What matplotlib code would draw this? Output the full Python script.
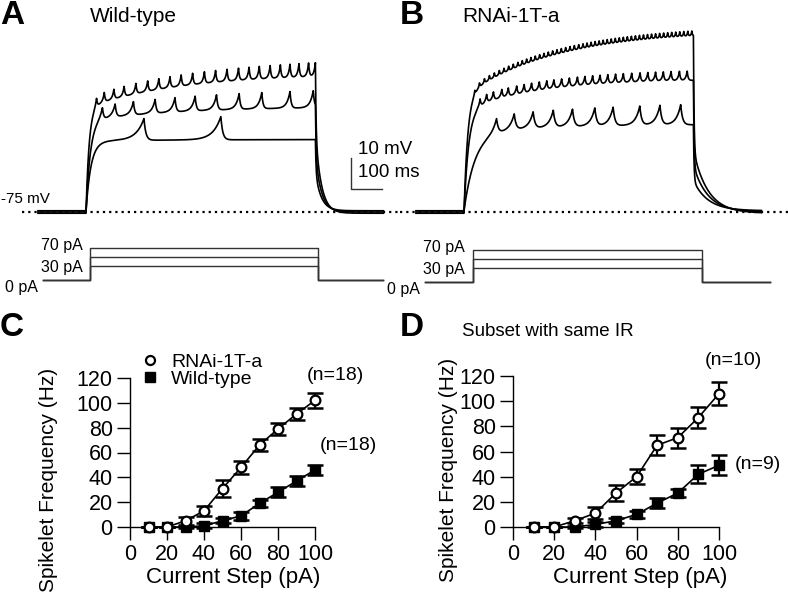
import numpy as np
import matplotlib
matplotlib.use('Agg')
import matplotlib.pyplot as plt
from matplotlib.lines import Line2D

plt.rcParams['font.family'] = ['Liberation Sans', 'DejaVu Sans']

W, H = 788, 598

# ---------------- data ----------------
# current steps (pA) used for the example traces
step_levels = [30, 50, 70]
rest_mv = -75

# spike times (ms after step onset)
wt_spikes = {
    30: [187, 435],
    50: [53, 94, 153, 223, 287, 352, 421, 494, 567, 658, 733],
    70: [34, 59, 90, 123, 161, 199, 235, 271, 307, 344, 382, 418, 455, 492,
         526, 559, 594, 627, 658, 687, 718, 740],
}
rnai_spikes = {
    30: [105, 162, 223, 288, 350, 422, 481, 567, 632, 699],
    50: [52, 73, 95, 122, 143, 170, 194, 218, 243, 267, 290, 315, 340, 366,
         390, 415, 439, 464, 489, 514, 541, 568, 593, 618, 643, 668, 695, 720],
    70: [35, 50, 66, 82, 98, 114, 129, 144, 159, 174, 188, 202, 216, 230, 244,
         258, 272, 286, 300, 314, 328, 342, 356, 370, 384, 397, 410, 423, 436,
         449, 462, 475, 488, 501, 514, 527, 540, 553, 566, 579, 592, 605, 618,
         631, 644, 657, 670, 683, 696, 709, 722, 735],
}
# depolarisation (mV above rest): fast part, slow drift part
wt_level = {30: (22.5, 0.5), 50: (29.5, 4.5), 70: (34.0, 11.0)}
rnai_level = {30: (25.0, 3.0), 50: (33.0, 10.0), 70: (38.0, 21.0)}
# spikelet amplitude (mV) first -> last
wt_amp = {30: (7.0, 7.5), 50: (4.0, 5.5), 70: (3.0, 4.5)}
rnai_amp = {30: (5.0, 6.5), 50: (2.6, 3.0), 70: (1.4, 1.6)}

step_on, step_off = 0, 740
trace_start, trace_end = -155, 960
wt_current_t = [-139, 13, 748, 958]
rnai_current_t = [-126, 29, 768, 987]

# frequency-current curves
current = [10, 20, 30, 40, 50, 60, 70, 80, 90, 100]
rnai_c = [0, 0, 5, 13, 31, 48, 66, 79, 91, 102]
rnai_c_err = [0, 0, 3, 4, 7, 5, 5, 5, 5, 6]
wt_c = [0, 0, 0, 1, 5, 9, 19, 28, 37, 46]
wt_c_err = [0, 0, 1, 2, 2, 3, 3, 4, 4, 4]

rnai_d = [0, 0, 5, 11, 27, 40, 65, 71, 87, 106]
rnai_d_err = [0, 0, 2, 5, 6, 6, 8, 8, 8, 9]
wt_d = [0, 0, 0, 2, 5, 10, 19, 27, 42, 49]
wt_d_err = [0, 0, 1, 2, 2, 3, 4, 3, 7, 8]


def px_axes(fig, x0, y0, x1, y1):
    return fig.add_axes([x0 / W, 1 - y1 / H, (x1 - x0) / W, (y1 - y0) / H])


def set_scale(ax, box, x_px, x_val, xs, y_px, y_val, ys):
    x0, y0, x1, y1 = box
    ax.set_xlim(x_val + (x0 - x_px) / xs, x_val + (x1 - x_px) / xs)
    ax.set_ylim(y_val - (y1 - y_px) / ys, y_val + (y_px - y0) / ys)


def build_trace(t, level, spikes, amp, tau1, tau2, tau_r, tau_f, slow_frac, tau_off):
    v = np.zeros_like(t)
    inside = (t >= step_on) & (t <= step_off)
    s = t[inside] - step_on
    v[inside] = level[0] * (1 - np.exp(-s / tau1)) + level[1] * (1 - np.exp(-s / tau2))
    amps = np.linspace(amp[0], amp[1], len(spikes))
    for ts, a in zip(spikes, amps):
        d = t[inside] - ts
        v[inside] += a * np.exp(-np.abs(d) / np.where(d < 0, tau_r, tau_f))
    v_end = v[inside][-1]
    after = t > step_off
    sa = t[after] - step_off
    v[after] = v_end * ((1 - slow_frac) * np.exp(-sa / 2.0) + slow_frac * np.exp(-sa / tau_off))
    return rest_mv + v


fig = plt.figure(figsize=(W / 100, H / 100), dpi=100)

t = np.arange(trace_start, trace_end, 0.5)
shape_wt = {30: (16, 300, 25, 6), 50: (14, 300, 10, 4), 70: (10, 300, 5, 3)}
shape_rnai = {30: (35, 300, 14, 6), 50: (15, 250, 5, 3), 70: (12, 300, 2.5, 2)}
rest_offset = {30: 0.4, 50: 0.0, 70: -0.4}

panels = [
    ('A', 'Wild-type', 0, 400, 86, wt_spikes, wt_level, wt_amp, shape_wt, (0.53, 19), wt_current_t, 280),
    ('B', 'RNAi-1T-a', 400, 788, 464, rnai_spikes, rnai_level, rnai_amp, shape_rnai, (0.35, 47), rnai_current_t, 282),
]
for letter, name, x0, x1, onset_px, spikes, level, amp, shape, off, cur_t, zero_px in panels:
    box = (x0, 30, x1, 238)
    ax = px_axes(fig, *box)
    set_scale(ax, box, onset_px, 0, 0.31, 212, rest_mv, 3.1)
    ax.axis('off')
    for lev in step_levels:
        tau1, tau2, tau_r, tau_f = shape[lev]
        v = build_trace(t, level[lev], spikes[lev], amp[lev], tau1, tau2, tau_r, tau_f, off[0], off[1])
        ax.plot(t, v + rest_offset[lev], color='black', lw=1.2)
    ax.axhline(rest_mv, xmin=(22 - x0) / (x1 - x0) if x0 == 0 else 0, color='black',
               lw=1.6, ls=(0, (1, 1.8)))

    fig.text(x0 / W, 1 - 16 / H, letter, fontsize=24, fontweight='bold', va='center', ha='left')
    fig.text((x0 + (90 if x0 == 0 else 62)) / W, 1 - 16 / H, name, fontsize=15, va='center', ha='left')

    # current step protocol
    cbox = (x0, 238, x1, 300)
    cax = px_axes(fig, *cbox)
    set_scale(cax, cbox, onset_px, 0, 0.31, zero_px, 0, 0.462)
    cax.axis('off')
    for lev in step_levels:
        cax.plot([cur_t[0], cur_t[1], cur_t[1], cur_t[2], cur_t[2], cur_t[3]],
                 [0, 0, lev, lev, 0, 0], color='#333333', lw=1.0)
    cax.text(cur_t[1] - 25, 74, '70 pA', fontsize=11.5, ha='right', va='center')
    cax.text(cur_t[1] - 25, 28, '30 pA', fontsize=11.5, ha='right', va='center')
    cax.text(cur_t[0] - 15, -16, '0 pA', fontsize=11.5, ha='right', va='center')

# -75 mV label and scale bar on panel A
fig.text(1 / W, 1 - 199 / H, '-75 mV', fontsize=11, va='center', ha='left')
sb = px_axes(fig, 0, 30, 400, 238)
set_scale(sb, (0, 30, 400, 238), 86, 0, 0.31, 212, rest_mv, 3.1)
sb.axis('off')
sb.plot([855, 855, 955], [rest_mv + 17.4, rest_mv + 7.4, rest_mv + 7.4], color='#333333', lw=1.0)
sb.text(877, rest_mv + 20.3, '10 mV', fontsize=13.5, va='center', ha='left')
sb.text(877, rest_mv + 12.6, '100 ms', fontsize=13.5, va='center', ha='left')

# ---------------- F-I curves ----------------
fi_panels = [
    ('C', (130, 378, 315, 527), rnai_c, rnai_c_err, wt_c, wt_c_err),
    ('D', (513, 376, 719, 527), rnai_d, rnai_d_err, wt_d, wt_d_err),
]
axes_fi = []
for letter, box, rn, rn_err, wt, wt_err in fi_panels:
    ax = px_axes(fig, *box)
    axes_fi.append(ax)
    ax.errorbar(current, wt, yerr=wt_err, fmt='none', ecolor='black', elinewidth=1.6,
                capsize=5.5, capthick=1.8, clip_on=False, zorder=2)
    ax.plot(current, wt, '-s', color='black', ms=7.5, lw=1.2, mfc='black', clip_on=False, zorder=3)
    ax.errorbar(current, rn, yerr=rn_err, fmt='none', ecolor='black', elinewidth=1.6,
                capsize=5.5, capthick=1.8, clip_on=False, zorder=4)
    ax.plot(current, rn, '-o', color='black', ms=7, lw=1.2, mfc='white', mew=1.6,
            clip_on=False, zorder=5)
    ax.set_xlim(0, 100)
    ax.set_ylim(0, 120)
    ax.set_xticks([0, 20, 40, 60, 80, 100])
    ax.set_yticks([0, 20, 40, 60, 80, 100, 120])
    ax.tick_params(direction='out', length=9.5, width=1.0, labelsize=15.5, pad=3)
    for side in ['top', 'right']:
        ax.spines[side].set_visible(False)
    for side in ['left', 'bottom']:
        ax.spines[side].set_linewidth(1.0)
    ax.set_xlabel('Current Step (pA)', fontsize=16)
    ax.set_ylabel('Spikelet Frequency (Hz)', fontsize=15)
    fig.text(box[0] / W - (130 if letter == 'C' else 113) / W, 1 - 328 / H, letter,
             fontsize=24, fontweight='bold', va='center', ha='left')

ax_c, ax_d = axes_fi
ax_c.yaxis.set_label_coords(-0.389, 0.315)
ax_c.xaxis.set_label_coords(0.557, -0.268)
ax_d.yaxis.set_label_coords(-0.267, 0.377)
ax_d.xaxis.set_label_coords(0.617, -0.265)

handles = [Line2D([], [], ls='none', marker='o', color='black', mfc='white', mew=1.6, ms=6.5),
           Line2D([], [], ls='none', marker='s', color='black', ms=7)]
ax_c.legend(handles, ['RNAi-1T-a', 'Wild-type'], loc='upper left', bbox_to_anchor=(0.065, 1.165),
            frameon=False, fontsize=14, handlelength=0.8, handletextpad=0.7,
            labelspacing=-0.05, borderpad=0, borderaxespad=0)

ax_c.text(95.7, 122.4, '(n=18)', fontsize=14, va='center', ha='left', clip_on=False)
ax_c.text(102.7, 66, '(n=18)', fontsize=14, va='center', ha='left', clip_on=False)
ax_d.text(93.2, 132, '(n=10)', fontsize=14, va='center', ha='left', clip_on=False)
ax_d.text(107.8, 49.3, '(n=9)', fontsize=14, va='center', ha='left', clip_on=False)
ax_d.text(16.7, 155, 'Subset with same IR', fontsize=13.5, va='center', ha='center',
          clip_on=False, family=['Liberation Sans Narrow', 'Liberation Sans', 'DejaVu Sans'])

fig.savefig('out.png', dpi=100)
